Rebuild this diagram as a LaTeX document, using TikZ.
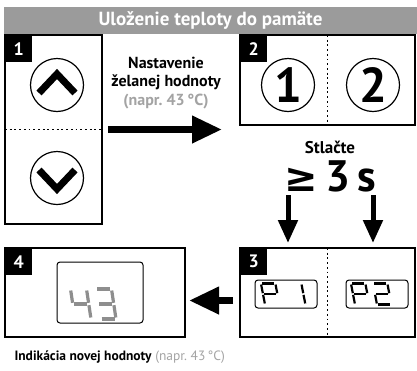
\documentclass[tikz,border=0pt]{standalone}
\usepackage{fontspec}
\setmainfont{PT Sans}
\newfontfamily\symfont{DejaVu Sans}
\usepackage{tikz}
\usetikzlibrary{positioning, arrows.meta}
\definecolor{bargray}{HTML}{9B9B9B}
\definecolor{txtgray}{HTML}{A3A3A3}
\definecolor{seggray}{HTML}{8E8E8E}
\newcommand\segdigit[2]{%
  \begin{scope}[#1, yscale=-1, xslant=0.15]
    \foreach \s in {#2}{\edef\segcmd{\noexpand\draw[seg \s];}\segcmd}
  \end{scope}}

\begin{document}
\begin{tikzpicture}[
  x=1pt, y=-1pt,
  >=Triangle,
  panel/.style={draw, line width=2.3pt, inner sep=0pt, outer sep=0pt},
  tag/.style={fill=black, text=white, font=\bfseries\fontsize{18}{18}\selectfont,
    minimum width=27pt, minimum height=27pt, inner sep=0pt, anchor=north west},
  knob/.style={draw, circle, line width=1.2pt, minimum size=53pt, inner sep=0pt,
    font=\bfseries\fontsize{49}{49}\selectfont},
  disp/.style={draw, rounded corners=3pt, line width=1pt, inner sep=0pt},
  divider/.style={line width=1.9pt, dash pattern=on 1.9pt off 2.8pt},
  chevron/.style={line width=7pt, miter limit=10},
  fatarrow/.style={line width=7pt, -{Triangle[length=30pt, width=26pt]}},
  thinarrow/.style={line width=5pt, -{Triangle[length=23pt, width=19pt]}},
  graysegs/.style={line width=3.2pt, seggray},
  blacksegs/.style={line width=2.2pt, black, xscale=0.9, yscale=0.7},
  seg a/.style={insert path={(1.5,30)--(14.5,30)}},
  seg b/.style={insert path={(16,28.5)--(16,16.2)}},
  seg c/.style={insert path={(16,13.8)--(16,1.5)}},
  seg d/.style={insert path={(1.5,0)--(14.5,0)}},
  seg e/.style={insert path={(0,1.5)--(0,13.8)}},
  seg f/.style={insert path={(0,16.2)--(0,28.5)}},
  seg g/.style={insert path={(1.5,15)--(14.5,15)}}
]
  \useasboundingbox (0,0) rectangle (417,370);

  \node[fill=bargray, text=white, minimum width=413pt, minimum height=27pt, inner sep=0pt,
    font=\bfseries\fontsize{19}{19}\selectfont] (title) at (210.5,20.5) {Uloženie teploty do pamäte};

  \node[panel, minimum width=97pt, minimum height=189pt] (b1) at (53.5,129.5) {};
  \node[panel, minimum width=175pt, minimum height=90pt] (b2) at (327.5,80) {};
  \node[panel, minimum width=175pt, minimum height=89pt] (b3) at (327.5,292.5) {};
  \node[panel, minimum width=180pt, minimum height=89pt] (b4) at (95,292.5) {};

  \node[tag] (t1) at (b1.north west) {1};
  \node[tag] (t2) at (b2.north west) {2};
  \node[tag] (t3) at (b3.north west) {3};
  \node[tag] (t4) at (b4.north west) {4};

  \draw[divider] (b1.west) -- (b1.east);
  \draw[divider] (b2.north) -- (b2.south);
  \draw[divider] (b3.north) -- (b3.south);

  \node[knob] (up) at (57,85) {};
  \node[knob] (down) at (57,178) {};
  \node[knob] (c1) at (288,85) {1};
  \node[knob] (c2) at (373,85) {2};

  \draw[chevron] ([shift={(-18,8)}]up.center) -- ([shift={(0,-11)}]up.center) -- ([shift={(18,8)}]up.center);
  \draw[chevron] ([shift={(-18,-8)}]down.center) -- ([shift={(0,11)}]down.center) -- ([shift={(18,-8)}]down.center);

  \node[align=center, font=\bfseries\fontsize{16}{18.5}\selectfont] (hint) at (166,83)
    {Nastavenie\\želanej hodnoty\\{\color{txtgray}(napr.~43\,°C)}};

  \node[font=\bfseries\fontsize{17}{17}\selectfont] (stl) at (330,147) {Stlačte};
  \node[font=\bfseries\fontsize{44}{44}\selectfont] (hold) at (330,176)
    {{\symfont\bfseries\fontsize{40}{40}\selectfont ≥}\,3\,s};

  \draw[fatarrow] ([xshift=6pt]b1.east) -- ([xshift=-18pt]b2.west |- b1.east);
  \draw[thinarrow] (c1 |- hold.south) -- ([yshift=5pt]c1 |- b3.north);
  \draw[thinarrow] (c2 |- hold.south) -- ([yshift=5pt]c2 |- b3.north);
  \draw[fatarrow] ([shift={(-7,8)}]b3.west) -- ([shift={(4,8)}]b4.east);

  \node[disp, minimum width=86pt, minimum height=61pt] (d43) at (100,292.5) {};
  \node[disp, minimum width=62pt, minimum height=28pt] (dp1) at (286,294) {};
  \node[disp, minimum width=62pt, minimum height=28pt] (dp2) at (377,294) {};

  \segdigit{shift={(75,319)}, graysegs}{f,g,b,c}
  \segdigit{shift={(100,319)}, graysegs}{a,b,g,c,d}
  \segdigit{shift={(265,304.5)}, blacksegs}{a,b,f,g,e}
  \segdigit{shift={(291,304.5)}, blacksegs}{b,c}
  \segdigit{shift={(355,304.5)}, blacksegs}{a,b,f,g,e}
  \segdigit{shift={(377,304.5)}, blacksegs}{a,b,g,e,d}

  \node[anchor=west, font=\fontsize{13.5}{13.5}\selectfont] (note) at (11,357)
    {\textbf{Indikácia novej hodnoty} {\color{txtgray}(napr.~43\,°C)}};
\end{tikzpicture}
\end{document}
